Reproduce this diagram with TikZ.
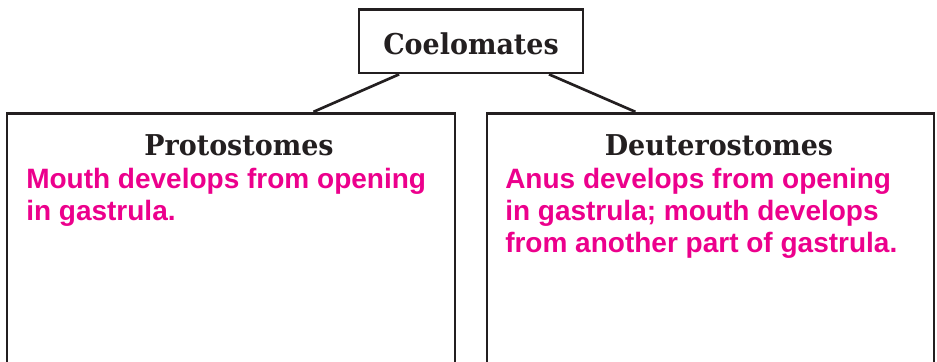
\documentclass[tikz,border=0pt]{standalone}
\usepackage{fontspec}
\setmainfont{Liberation Sans}
\newfontfamily\slabfont[FakeStretch=0.94]{DejaVu Serif}
\usetikzlibrary{calc}
\definecolor{ink}{RGB}{35,31,32}
\definecolor{pinktext}{RGB}{236,0,140}
\begin{document}
\begin{tikzpicture}[x=0.75pt,y=-0.75pt,
  box/.style={draw=ink, line width=2pt, inner sep=0pt, rectangle},
  titletext/.style={font=\slabfont\bfseries\fontsize{21.5}{24}\selectfont, text=ink},
  desc/.style={font=\bfseries\fontsize{21}{24}\selectfont, text=pinktext, align=left, anchor=north west, inner sep=0pt},
  link/.style={draw=ink, line width=2pt}]
\clip (0,0) rectangle (937,361);
\node[box, titletext, minimum width=168pt, minimum height=47.6pt] (coel) at (471,41.25) {\raisebox{-1.5pt}[\height][0pt]{Coelomates}};
\node[box, minimum width=336pt, minimum height=230pt] (proto) at (231,266.5) {};
\node[box, minimum width=335.25pt, minimum height=230pt] (deut) at (710.5,266.5) {};
\node[titletext, anchor=base] (protot) at (239,155) {Protostomes};
\node[titletext, anchor=base] (deutt) at (719,155) {Deuterostomes};
\node[desc] (protod) at (26,168) {Mouth develops from opening\\in gastrula.};
\node[desc] (deutd) at (505,168) {Anus develops from opening\\in gastrula; mouth develops\\from another part of gastrula.};
\draw[link] ($(coel.south west)!0.183!(coel.south east)$) -- ($(proto.north west)!0.683!(proto.north east)$);
\draw[link] ($(coel.south west)!0.844!(coel.south east)$) -- ($(deut.north west)!0.333!(deut.north east)$);
\end{tikzpicture}
\end{document}
